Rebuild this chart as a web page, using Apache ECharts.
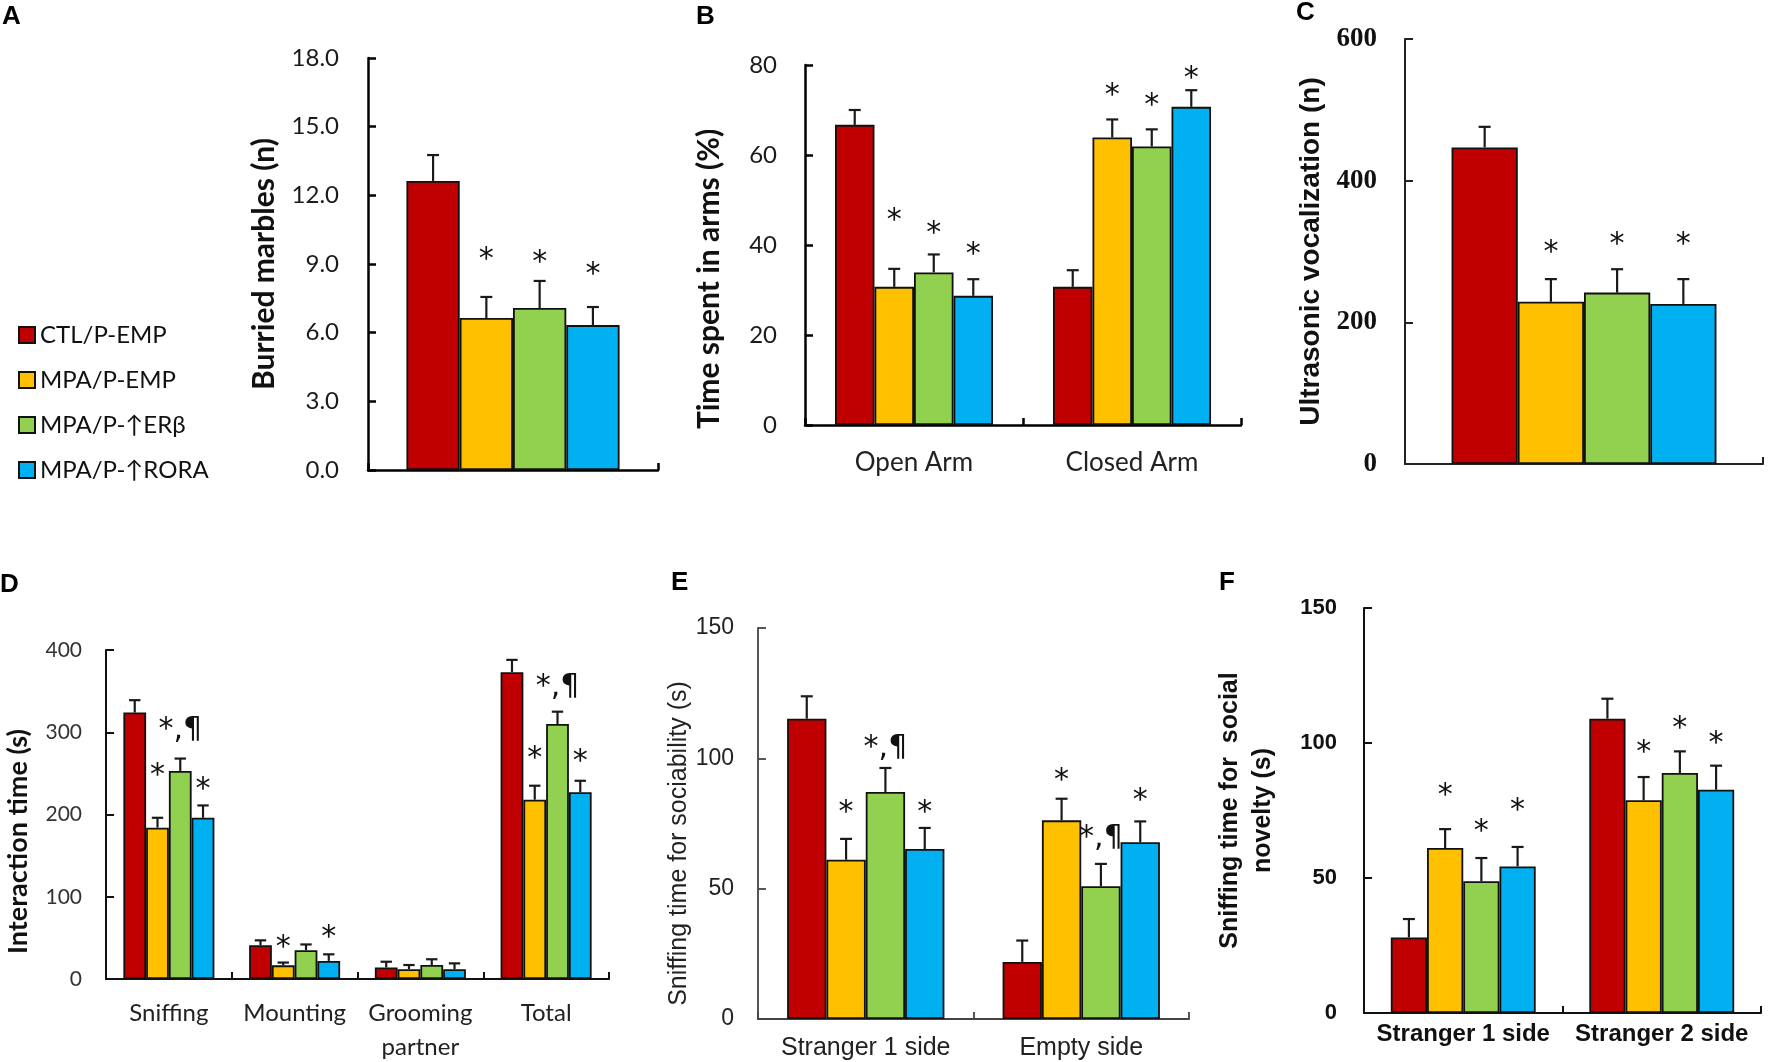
<!DOCTYPE html>
<html>
<head>
<meta charset="utf-8">
<title>Behaviour panels A-F</title>
<script src="https://cdn.jsdelivr.net/npm/echarts@6/dist/echarts.min.js"></script>
<style>
    html, body { margin: 0; padding: 0; background: #fff; }
    #main { width: 1772px; height: 1062px; }
</style>
</head>
<body>
<div id="main"></div>
<script>
// groups (legend) and colours
var groupNames = ['CTL/P-EMP', 'MPA/P-EMP', 'MPA/P-\u2191ER\u03b2', 'MPA/P-\u2191RORA'];
var groupColors = ['#C00000', '#FFC000', '#92D050', '#00B0F0'];

// all value arrays are [group][category]

// A - marble burying
var catsA = [''];
var yTicksA = [0, 3, 6, 9, 12, 15, 18];
var meanA = [[12.63], [6.64], [7.08], [6.33]];
var semA = [[1.13], [0.92], [1.18], [0.79]];
var starA = [[''], ['*'], ['*'], ['*']];
var starYA = [[0], [9.48], [9.35], [8.83]];

// B - elevated plus maze
var catsB = ['Open Arm', 'Closed Arm'];
var yTicksB = [0, 20, 40, 60, 80];
var meanB = [[66.7, 30.7], [30.7, 63.9], [33.9, 61.9], [28.7, 70.7]];
var semB = [[3.3, 3.7], [4.0, 4.0], [4.0, 3.8], [3.7, 3.7]];
var starB = [['', ''], ['*', '*'], ['*', '*'], ['*', '*']];
var starYB = [[0, 0], [46.9, 74.7], [44.1, 72.4], [39.3, 78.5]];

// C - ultrasonic vocalization
var catsC = [''];
var yTicksC = [0, 200, 400, 600];
var meanC = [[447], [229], [242], [226]];
var semC = [[29], [32], [33], [35]];
var starC = [[''], ['*'], ['*'], ['*']];
var starYC = [[0], [308], [319], [319]];

// D - social interaction
var catsD = ['Sniffing', 'Mounting', 'Grooming\npartner', 'Total'];
var yTicksD = [0, 100, 200, 300, 400];
var meanD = [[324, 41, 14, 373], [184, 16.6, 12, 218], [253, 35, 17, 310], [196, 22, 12, 227]];
var semD = [[15, 6, 7, 15], [12, 3.4, 5, 17], [15, 7, 7, 15], [15, 8, 7, 14]];
var starD = [['', '', '', ''], ['*', '*', '', '*'], ['*,\u00b6', '', '', '*,\u00b6'], ['*', '*', '', '*']];
var starYD = [[0, 0, 0, 0], [255, 46.6, 0, 276.5], [311, 0, 0, 363.6], [238, 58.7, 0, 272.5]];

// E - sociability
var catsE = ['Stranger 1 side', 'Empty side'];
var yTicksE = [0, 50, 100, 150];
var meanE = [[115.2, 21.9], [61.1, 76.2], [87.1, 50.9], [65.2, 67.8]];
var semE = [[8.6, 8.2], [8.0, 8.3], [9.2, 8.6], [8.1, 8.0]];
var starE = [['', ''], ['*', '*'], ['*,\u00b6', '*,\u00b6'], ['*', '*']];
var starYE = [[0, 0], [81.6, 94.1], [106.5, 72], [81.6, 86.3]];

// F - social novelty
var catsF = ['Stranger 1 side', 'Stranger 2 side'];
var yTicksF = [0, 50, 100, 150];
var meanF = [[28, 109], [61.1, 78.8], [48.8, 88.9], [54.3, 82.7]];
var semF = [[6.8, 7.4], [7.0, 8.6], [8.6, 8.0], [7.2, 8.9]];
var starF = [['', ''], ['*', '*'], ['*', '*'], ['*', '*']];
var starYF = [[0, 0], [83, 98.8], [69.5, 107.7], [77.4, 102.1]];

var calibri = 'Lato, "Open Sans", sans-serif';
var arial = '"Liberation Sans", Arial, sans-serif';
var times = '"Liberation Serif", "Times New Roman", serif';
var starFamily = '"DejaVu Sans", sans-serif';

var panels = [
    {
        letter: 'A', letterPos: [2, 4],
        cats: catsA, ticks: yTicksA, mean: meanA, sem: semA, star: starA, starY: starYA,
        grid: {left: 368, top: 58, width: 290, height: 412}, gap: 0.265, decimals: 1,
        axisColor: '#000', axisWidth: 2.5,
        tickFont: {fontFamily: calibri, fontSize: 24, color: '#1a1a1a'}, tickMargin: 29,
        catFont: {fontFamily: calibri, fontSize: 22, color: '#222'}, catMargin: 20,
        yName: 'Burried marbles (n)', nameGap: 89, namePad: 0,
        nameFont: {fontFamily: calibri, fontSize: 30, fontWeight: 'bold', color: '#111'},
        starSize: 30
    },
    {
        letter: 'B', letterPos: [696, 4],
        cats: catsB, ticks: yTicksB, mean: meanB, sem: semB, star: starB, starY: starYB,
        grid: {left: 805, top: 65, width: 436, height: 360}, gap: 0.275, decimals: 0,
        axisColor: '#000', axisWidth: 2.5,
        tickFont: {fontFamily: calibri, fontSize: 24, color: '#1a1a1a'}, tickMargin: 28,
        catFont: {fontFamily: calibri, fontSize: 26, color: '#222', lineHeight: 30}, catMargin: 23,
        yName: 'Time spent in arms (%)', nameGap: 81, namePad: 68,
        nameFont: {fontFamily: calibri, fontSize: 30, fontWeight: 'bold', color: '#111'},
        starSize: 30
    },
    {
        letter: 'C', letterPos: [1296, 0],
        cats: catsC, ticks: yTicksC, mean: meanC, sem: semC, star: starC, starY: starYC,
        grid: {left: 1405, top: 39, width: 358, height: 425}, gap: 0.26, decimals: 0,
        axisColor: '#222', axisWidth: 2,
        tickFont: {fontFamily: times, fontSize: 27, fontWeight: 'bold', color: '#111'}, tickMargin: 28,
        catFont: {fontFamily: times, fontSize: 22, color: '#222'}, catMargin: 20,
        yName: 'Ultrasonic vocalization (n)', nameGap: 80, namePad: 0,
        nameFont: {fontFamily: arial, fontSize: 28, fontWeight: 'bold', color: '#111'},
        starSize: 30
    },
    {
        letter: 'D', letterPos: [0, 572],
        cats: catsD, ticks: yTicksD, mean: meanD, sem: semD, star: starD, starY: starYD,
        grid: {left: 106, top: 650, width: 503, height: 329}, gap: 0.276, decimals: 0,
        axisColor: '#111', axisWidth: 2,
        tickFont: {fontFamily: calibri, fontSize: 21, color: '#333'}, tickMargin: 24,
        catFont: {fontFamily: calibri, fontSize: 24, color: '#222', lineHeight: 34}, catMargin: 17,
        yName: 'Interaction time (s)', nameGap: 74, namePad: 54,
        nameFont: {fontFamily: calibri, fontSize: 27, fontWeight: 'bold', color: '#111'},
        starSize: 30
    },
    {
        letter: 'E', letterPos: [671, 570],
        cats: catsE, ticks: yTicksE, mean: meanE, sem: semE, star: starE, starY: starYE,
        grid: {left: 758, top: 628, width: 431, height: 391}, gap: 0.27, decimals: 0,
        axisColor: '#444', axisWidth: 1.8,
        tickFont: {fontFamily: arial, fontSize: 23, color: '#222'}, tickMargin: 24,
        catFont: {fontFamily: arial, fontSize: 25, color: '#222', lineHeight: 28}, catMargin: 15,
        yName: 'Sniffing time for sociability (s)', nameGap: 66, namePad: 40,
        nameFont: {fontFamily: arial, fontSize: 25, color: '#222'},
        starSize: 30
    },
    {
        letter: 'F', letterPos: [1219, 570],
        cats: catsF, ticks: yTicksF, mean: meanF, sem: semF, star: starF, starY: starYF,
        grid: {left: 1364, top: 608, width: 397, height: 405}, gap: 0.27, decimals: 0,
        axisColor: '#111', axisWidth: 2,
        tickFont: {fontFamily: arial, fontSize: 22, fontWeight: 'bold', color: '#111'}, tickMargin: 27,
        catFont: {fontFamily: arial, fontSize: 24, fontWeight: 'bold', color: '#111', lineHeight: 28}, catMargin: 7,
        yName: 'Sniffing time for  social\nnovelty (s)', nameGap: 84, namePad: 0,
        nameFont: {fontFamily: arial, fontSize: 25, fontWeight: 'bold', color: '#111', lineHeight: 33, align: 'center'},
        starSize: 30
    }
];

// error bar (upper whisker only) + significance marks, placed on the bar of each group
function makeErrRender(p) {
    return function (params, api) {
        var c = api.value(0), g = api.value(1), m = api.value(2), e = api.value(3);
        var band = api.size([1, 0])[0];
        var bw = band * (1 - p.gap) / 4;
        var x = api.coord([c, 0])[0] - 2 * bw + (g + 0.5) * bw;
        var y0 = api.coord([c, m])[1];
        var y1 = api.coord([c, m + e])[1];
        var cap = Math.min(6, bw * 0.25);
        var kids = [
            {type: 'line', shape: {x1: x, y1: y0, x2: x, y2: y1}, style: {stroke: '#1a1a1a', lineWidth: 2.2}},
            {type: 'line', shape: {x1: x - cap, y1: y1, x2: x + cap, y2: y1}, style: {stroke: '#1a1a1a', lineWidth: 2.2}}
        ];
        var t = p.star[g][c];
        if (t) {
            var ys = api.coord([c, p.starY[g][c]])[1];
            kids.push({
                type: 'text',
                style: {
                    text: t, x: x, y: ys + p.starSize * 0.24,
                    align: 'center', verticalAlign: 'middle',
                    fontFamily: starFamily, fontSize: p.starSize, fill: '#111'
                }
            });
        }
        return {type: 'group', children: kids};
    };
}

var grids = [], xAxes = [], yAxes = [], series = [], titles = [];

panels.forEach(function (p, i) {
    var g = p.grid;
    grids.push({left: g.left, top: g.top, width: g.width, height: g.height, containLabel: false, outerBoundsMode: 'none'});

    titles.push({
        text: p.letter, left: p.letterPos[0], top: p.letterPos[1], padding: 0,
        textStyle: {fontFamily: arial, fontWeight: 'bold', fontSize: 26, color: '#000'}
    });

    var line = {color: p.axisColor, width: p.axisWidth};
    xAxes.push({
        type: 'category', gridIndex: i, data: p.cats,
        axisLine: {show: true, lineStyle: line},
        axisTick: {show: true, inside: true, length: 7, lineStyle: line},
        axisLabel: Object.assign({show: true, interval: 0, margin: p.catMargin}, p.catFont),
        splitLine: {show: false}
    });

    var nameStyle = Object.assign({}, p.nameFont);
    if (p.namePad) nameStyle.padding = [0, p.namePad, 0, 0];
    yAxes.push({
        type: 'value', gridIndex: i,
        min: p.ticks[0], max: p.ticks[p.ticks.length - 1], interval: p.ticks[1] - p.ticks[0],
        axisLine: {show: true, lineStyle: line},
        axisTick: {show: true, inside: true, length: 8, lineStyle: line},
        splitLine: {show: false},
        axisLabel: Object.assign({
            margin: p.tickMargin,
            formatter: (function (d) { return function (v) { return v.toFixed(d); }; })(p.decimals)
        }, p.tickFont),
        name: p.yName, nameLocation: 'middle', nameGap: p.nameGap, nameRotate: 90,
        nameTextStyle: nameStyle
    });

    // one bar series per group
    groupNames.forEach(function (name, k) {
        series.push({
            type: 'bar', name: name, xAxisIndex: i, yAxisIndex: i,
            data: p.mean[k],
            barGap: '0%', barCategoryGap: (p.gap * 100) + '%',
            itemStyle: {color: groupColors[k], borderColor: '#111', borderWidth: 1.8},
            emphasis: {disabled: true},
            z: 2
        });
    });

    var errData = [];
    p.cats.forEach(function (cat, c) {
        groupNames.forEach(function (name, k) {
            errData.push([c, k, p.mean[k][c], p.sem[k][c]]);
        });
    });
    series.push({
        type: 'custom', name: 'err' + p.letter, xAxisIndex: i, yAxisIndex: i,
        renderItem: makeErrRender(p),
        data: errData, encode: {x: 0, y: 2},
        clip: false, silent: true, z: 5
    });
});

var chart = echarts.init(document.getElementById('main'), null, {renderer: 'canvas'});
chart.setOption({
    animation: false,
    backgroundColor: '#fff',
    title: titles,
    legend: {
        data: groupNames,
        orient: 'vertical', left: 13, top: 318,
        icon: 'rect', itemWidth: 16, itemHeight: 16, itemGap: 21,
        selectedMode: false,
        textStyle: {fontFamily: calibri, fontSize: 24, color: '#111', lineHeight: 24}
    },
    grid: grids,
    xAxis: xAxes,
    yAxis: yAxes,
    series: series
});
</script>
</body>
</html>
